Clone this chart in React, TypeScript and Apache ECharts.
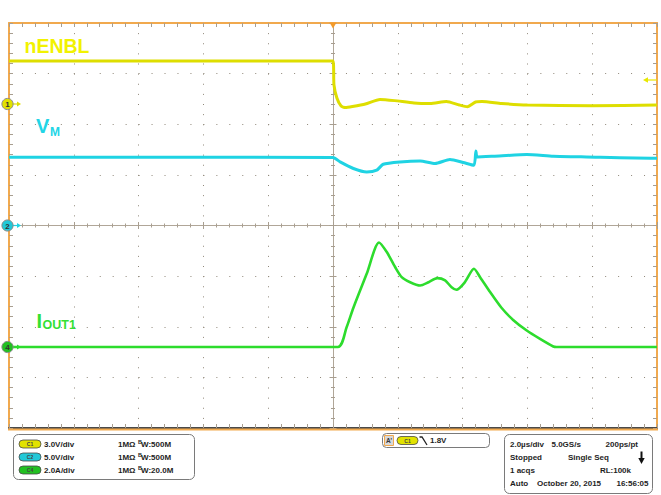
import React, { useEffect, useRef } from "react";
import * as echarts from "echarts";

// ---- Data (time in µs, 2 µs/div) ----
const ch1Time = [-10, -5, 0, 0.03, 0.12, 0.25, 0.38, 0.6, 1.0, 1.45, 1.9, 2.5, 3.0, 3.5, 3.9, 4.15, 4.4, 4.6, 5.2, 6.0, 8.0, 10];
const ch1nENBL = [2.55, 2.55, 2.55, 1.13, 0.36, -0.12, -0.21, -0.15, 0.0, 0.27, 0.2, 0.06, 0.03, 0.15, -0.06, -0.16, 0.12, 0.15, 0.03, -0.06, -0.1, -0.06];

const ch2Time = [-10, -5, 0, 0.22, 0.63, 1.04, 1.35, 1.55, 2.07, 2.69, 3.15, 3.61, 4.02, 4.35, 4.41, 4.45, 4.95, 5.98, 6.8, 7.82, 9.9, 10];
const ch2VM = [6.75, 6.75, 6.72, 6.28, 5.63, 5.29, 5.46, 6.05, 6.28, 6.38, 6.12, 6.52, 6.22, 5.95, 7.37, 6.77, 6.84, 7.01, 6.84, 6.77, 6.65, 6.65];

const ch4Time = [-10, -5, 0.15, 0.42, 0.63, 1.04, 1.42, 1.66, 1.92, 2.12, 2.38, 2.69, 2.95, 3.22, 3.46, 3.66, 3.81, 4.07, 4.35, 4.54, 4.85, 5.2, 5.56, 5.98, 6.39, 6.8, 6.9, 10];
const ch4IOUT = [0, 0, 0, 0.78, 1.55, 2.89, 4.13, 3.75, 3.15, 2.76, 2.56, 2.43, 2.56, 2.72, 2.63, 2.36, 2.26, 2.56, 3.09, 2.76, 2.17, 1.55, 1.07, 0.65, 0.32, 0.02, 0, 0];

const chScales = [
  { name: "C1", perDiv: 3.0, unit: "V/div", groundDiv: 2.4, color: "#dede00", chip: "#e2e200" },
  { name: "C2", perDiv: 5.0, unit: "V/div", groundDiv: 0, color: "#1fd3e3", chip: "#22c8d8" },
  { name: "C4", perDiv: 2.0, unit: "A/div", groundDiv: -2.4, color: "#2ddc2d", chip: "#22c022" },
];
const bwLabels = ["500M", "500M", "20.0M"];
const markerLabels = ["1", "2", "4"];

const GRID = { left: 9, top: 23, width: 648, height: 405 };
const ORANGE = "#f1a94e";
const GRIDC = "#8f8779";
const FONT = "Liberation Sans, Arial, sans-serif";

function zip(t: number[], v: number[]) {
  return t.map((x, i) => [x, v[i]]);
}

export default function App() {
  const ref = useRef<HTMLDivElement>(null);
  useEffect(() => {
    const chart = echarts.init(ref.current!, null, { renderer: "svg" });
    const tickStyle = { color: "#a89e90", width: 1 };
    const xBase = { type: "value", min: -10, max: 10, interval: 2, axisLabel: { show: false }, gridIndex: 0 };
    const yBase = { type: "value", min: -4, max: 4, interval: 1, axisLabel: { show: false } };
    const edgeTick = { show: true, inside: true, length: 4, lineStyle: tickStyle };
    const edgeMinor = { show: true, splitNumber: 5, length: 4, lineStyle: tickStyle };
    const cTickIn = { show: true, inside: true, length: 3.5, lineStyle: tickStyle };
    const cTickOut = { show: true, inside: false, length: 3.5, lineStyle: tickStyle };
    const cMinor = { show: true, splitNumber: 5, length: 2, lineStyle: tickStyle };

    const yAxes: any[] = [
      { ...yBase, position: "left", axisLine: { show: true, onZero: false, lineStyle: { color: ORANGE, width: 2 } }, axisTick: edgeTick, minorTick: edgeMinor,
        splitLine: { show: true, lineStyle: { color: GRIDC, width: 1, type: [1, 11.96] } } },
      { ...yBase, position: "right", axisLine: { show: true, onZero: false, lineStyle: { color: ORANGE, width: 2 } }, axisTick: edgeTick, minorTick: edgeMinor, splitLine: { show: false } },
      { ...yBase, position: "left", offset: -324, axisLine: { show: true, onZero: false, lineStyle: { color: "#b0a698", width: 1 } }, axisTick: cTickIn, minorTick: cMinor, splitLine: { show: false } },
      { ...yBase, position: "left", offset: -324, axisLine: { show: false, onZero: false }, axisTick: cTickOut, minorTick: cMinor, splitLine: { show: false } },
    ];
    chScales.forEach((c) => {
      yAxes.push({ type: "value", show: false, min: (-4 - c.groundDiv) * c.perDiv, max: (4 - c.groundDiv) * c.perDiv, splitLine: { show: false } });
    });

    const option: any = {
      animation: false,
      backgroundColor: "#ffffff",
      grid: { ...GRID, show: false },
      xAxis: [
        { ...xBase, position: "bottom", axisLine: { show: true, onZero: false, lineStyle: { color: "#4a4a4a", width: 2 } }, axisTick: edgeTick, minorTick: edgeMinor,
          splitLine: { show: true, lineStyle: { color: GRIDC, width: 1, type: [1, 9.125] } } },
        { ...xBase, position: "top", axisLine: { show: true, onZero: false, lineStyle: { color: ORANGE, width: 2 } }, axisTick: edgeTick, minorTick: edgeMinor, splitLine: { show: false } },
        { ...xBase, position: "bottom", offset: -202.5, axisLine: { show: true, onZero: false, lineStyle: { color: "#b0a698", width: 1 } }, axisTick: cTickIn, minorTick: cMinor, splitLine: { show: false } },
        { ...xBase, position: "bottom", offset: -202.5, axisLine: { show: false, onZero: false }, axisTick: cTickOut, minorTick: cMinor, splitLine: { show: false } },
      ],
      yAxis: yAxes,
      series: [
        { type: "line", name: "nENBL", xAxisIndex: 0, yAxisIndex: 4, data: zip(ch1Time, ch1nENBL), showSymbol: false, smooth: 0.2, lineStyle: { color: chScales[0].color, width: 3 }, z: 5 },
        { type: "line", name: "VM", xAxisIndex: 0, yAxisIndex: 5, data: zip(ch2Time, ch2VM), showSymbol: false, smooth: 0.2, lineStyle: { color: chScales[1].color, width: 3 }, z: 5 },
        { type: "line", name: "IOUT1", xAxisIndex: 0, yAxisIndex: 6, data: zip(ch4Time, ch4IOUT), showSymbol: false, smooth: 0.25, lineStyle: { color: chScales[2].color, width: 2.6 }, z: 5 },
      ],
    };
    chart.setOption(option);

    const g: any[] = [];
    const txt = (x: number, y: number, text: string, opts: any = {}) => ({
      type: "text", x, y, z: 20,
      style: { text, fill: "#1e1e1e", font: `bold ${opts.size || 8}px ${FONT}`, textAlign: opts.align || "left", textVerticalAlign: "middle", ...(opts.style || {}) },
    });

    // bottom orange frame line
    g.push({ type: "line", z: 10, shape: { x1: 8, y1: 429.5, x2: 658, y2: 429.5 }, style: { stroke: ORANGE, lineWidth: 2 } });

    // channel ground markers on the left
    chScales.forEach((c, i) => {
      const py = chart.convertToPixel({ yAxisIndex: 4 + i } as any, 0) as number;
      g.push({ type: "line", z: 12, shape: { x1: 13, y1: py, x2: 19, y2: py }, style: { stroke: c.color, lineWidth: 1.2 } });
      g.push({ type: "polygon", z: 12, shape: { points: [[21, py], [17, py - 2.5], [17, py + 2.5]] }, style: { fill: c.color } });
      g.push({ type: "circle", z: 13, shape: { cx: 7.5, cy: py, r: 5.6 }, style: { fill: c.chip, stroke: "#8a8a8a", lineWidth: 1 } });
      g.push(txt(7.5, py + 0.5, markerLabels[i], { size: 8, align: "center", style: { fill: "#333" } }));
    });

    // trigger position marker (top) and level marker (right)
    g.push({ type: "polygon", z: 12, shape: { points: [[329.5, 22.5], [336.5, 22.5], [333, 28.5]] }, style: { fill: "#f39a2a" } });
    g.push({ type: "line", z: 12, shape: { x1: 648, y1: 80, x2: 657, y2: 80 }, style: { stroke: "#e8e800", lineWidth: 1.2 } });
    g.push({ type: "polygon", z: 12, shape: { points: [[643, 80], [648, 77.3], [648, 82.7]] }, style: { fill: "#e8e800" } });

    // trace labels
    g.push(txt(24.5, 45.5, "nENBL", { size: 19.5, style: { fill: "#f2f200" } }));
    g.push(txt(36, 126, "V", { size: 20, style: { fill: "#22d5e6" } }));
    g.push(txt(50, 131.5, "M", { size: 12, style: { fill: "#22d5e6" } }));
    g.push(txt(36.5, 320.5, "I", { size: 20, style: { fill: "#33e033" } }));
    g.push(txt(42.5, 325, "OUT1", { size: 12.5, style: { fill: "#33e033" } }));

    // info box 1 (channel settings)
    g.push({ type: "rect", z: 10, shape: { x: 13.5, y: 434.5, width: 181, height: 45, r: 5 }, style: { fill: "#fff", stroke: "#7a7a7a", lineWidth: 1 } });
    const rows = [444, 457, 470];
    chScales.forEach((c, i) => {
      const y = rows[i];
      g.push({ type: "rect", z: 12, shape: { x: 19, y: y - 4, width: 22, height: 8, r: 4 }, style: { fill: c.chip, stroke: "#4a4a4a", lineWidth: 0.8 } });
      g.push(txt(30, y + 0.3, c.name, { size: 5, align: "center", style: { fill: "#444" } }));
      g.push(txt(44, y, `${c.perDiv.toFixed(1)}${c.unit}`));
      g.push(txt(118, y, "1MΩ"));
      g.push(txt(138, y - 2, "B", { size: 5.5 }));
      g.push(txt(141, y + 0.8, `W:${bwLabels[i]}`));
    });

    // info box 2 (trigger)
    g.push({ type: "rect", z: 10, shape: { x: 382.5, y: 433.5, width: 107, height: 14, r: 4 }, style: { fill: "#fff", stroke: "#7a7a7a", lineWidth: 1 } });
    g.push({ type: "rect", z: 12, shape: { x: 384.5, y: 435.5, width: 9, height: 10 }, style: { fill: "#d8d8d8", stroke: ORANGE, lineWidth: 1 } });
    g.push(txt(389, 440.8, "A'", { size: 6.5, align: "center", style: { fill: "#333" } }));
    g.push({ type: "rect", z: 12, shape: { x: 397, y: 436.5, width: 21, height: 8, r: 4 }, style: { fill: chScales[0].chip, stroke: "#4a4a4a", lineWidth: 0.8 } });
    g.push(txt(407.5, 440.8, "C1", { size: 5, align: "center", style: { fill: "#444" } }));
    g.push({ type: "polyline", z: 12, shape: { points: [[419.5, 437], [422, 437], [427, 445]] }, style: { stroke: "#222", lineWidth: 1.3, fill: null } });
    g.push(txt(430, 440.5, "1.8V"));

    // info box 3 (timebase / acquisition)
    g.push({ type: "rect", z: 10, shape: { x: 504.5, y: 434.5, width: 148, height: 59, r: 5 }, style: { fill: "#fff", stroke: "#7a7a7a", lineWidth: 1 } });
    g.push(txt(510, 444, "2.0µs/div"));
    g.push(txt(551.5, 444, "5.0GS/s"));
    g.push(txt(638, 444, "200ps/pt", { align: "right" }));
    g.push(txt(510, 457, "Stopped"));
    g.push(txt(568, 457, "Single Seq"));
    g.push({ type: "line", z: 12, shape: { x1: 641.5, y1: 451.5, x2: 641.5, y2: 459 }, style: { stroke: "#111", lineWidth: 2 } });
    g.push({ type: "polygon", z: 12, shape: { points: [[638.3, 458], [644.7, 458], [641.5, 464]] }, style: { fill: "#111" } });
    g.push(txt(510, 470, "1 acqs"));
    g.push(txt(631, 470, "RL:100k", { align: "right" }));
    g.push(txt(510, 483.5, "Auto"));
    g.push(txt(537, 483.5, "October 20, 2015"));
    g.push(txt(648.5, 483.5, "16:56:05", { align: "right" }));

    chart.setOption({ graphic: g });
    return () => chart.dispose();
  }, []);
  return <div ref={ref} style={{ position: "fixed", left: 0, top: 0, width: 661, height: 495, background: "#fff" }} />;
}
